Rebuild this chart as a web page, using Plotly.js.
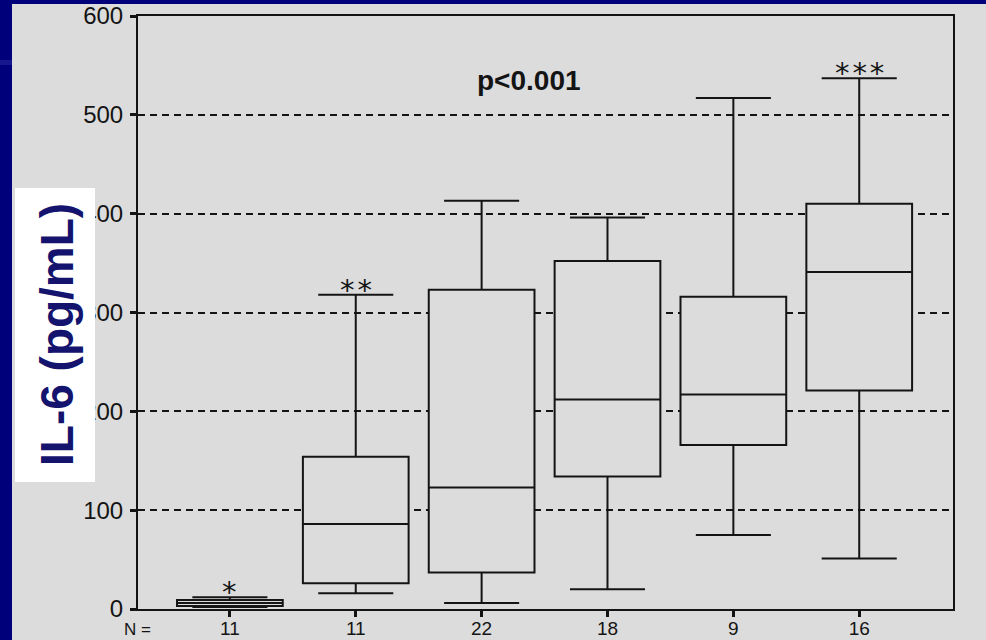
<!DOCTYPE html>
<html><head><meta charset="utf-8">
<script src="https://cdn.plot.ly/plotly-3.0.1.min.js"></script>
<style>html,body{margin:0;padding:0;background:#00007a;overflow:hidden;} #chart{width:986px;height:640px;}</style>
</head><body><div id="chart"></div>
<script>
// ---- data ----
const groupPos = [0, 1, 2, 3, 4, 5];
const nLabels = ['11', '11', '22', '18', '9', '16'];
const lowerWhisker = [2, 16, 6, 20, 75, 51];
const q1Values = [3, 26, 37, 134, 166, 221];
const medianValues = [6, 86, 123, 212, 217, 341];
const q3Values = [9, 154, 323, 352, 316, 410];
const upperWhisker = [12, 318, 413, 396, 517, 537];
const yTicks = [0, 100, 200, 300, 400, 500, 600];
const starGroups = [0, 1, 5];
const starLabels = ['*', '*\u200A*', '*\u200A*\u200A*'];
const pText = 'p<0.001';
const pPos = {x: 2.38, y: 535};
const yTitle = 'IL-6 (pg/mL)';

// ---- layout geometry (pixels) ----
const W = 986, H = 640;
const L = 138, R = 33, T = 16, B = 31;
const PW = W - L - R, PH = H - T - B;
const px = v => (v - L) / PW;
const py = v => (H - B - v) / PH;

const NAVY = '#00007a';
const PANEL = '#dcdcdc';
const INK = '#141414';
const FONT = 'Liberation Sans, Arial, sans-serif';

const trace = {
  type: 'box',
  x: groupPos,
  q1: q1Values,
  median: medianValues,
  q3: q3Values,
  lowerfence: lowerWhisker,
  upperfence: upperWhisker,
  boxpoints: false,
  width: 0.84,
  whiskerwidth: 0.71,
  fillcolor: PANEL,
  line: {color: INK, width: 2},
  hoverinfo: 'skip',
  showlegend: false
};

const annotations = [];
starGroups.forEach((g, i) => {
  annotations.push({
    x: groupPos[g], y: upperWhisker[g], xref: 'x', yref: 'y',
    text: starLabels[i], showarrow: false, xanchor: 'center', yanchor: 'bottom',
    yshift: -14,
    font: {family: 'DejaVu Sans, sans-serif', size: 29, color: INK}
  });
});
annotations.push({
  x: pPos.x, y: pPos.y, xref: 'x', yref: 'y', text: '<b>' + pText + '</b>',
  showarrow: false, xanchor: 'center', yanchor: 'middle',
  font: {family: FONT, size: 28, color: INK}
});
annotations.push({
  x: px(137), y: py(629), xref: 'paper', yref: 'paper', text: 'N =',
  showarrow: false, xanchor: 'center', yanchor: 'middle',
  font: {family: FONT, size: 17, color: INK}
});
annotations.push({
  x: px(57), y: py(335), xref: 'paper', yref: 'paper', text: '<b>' + yTitle + '</b>',
  showarrow: false, xanchor: 'center', yanchor: 'middle', textangle: -90,
  font: {family: FONT, size: 46, color: '#14146e'}
});

const shapes = [
  {type: 'rect', xref: 'paper', yref: 'paper', x0: px(12), x1: px(986), y0: py(640), y1: py(4),
   fillcolor: PANEL, line: {width: 0}, layer: 'below'},
  {type: 'rect', xref: 'paper', yref: 'paper', x0: px(0), x1: px(12), y0: py(65), y1: py(60),
   fillcolor: '#16168e', line: {width: 0}, layer: 'below'},
  {type: 'rect', xref: 'paper', yref: 'paper', x0: px(15), x1: px(95), y0: py(482), y1: py(188),
   fillcolor: '#ffffff', line: {width: 0}, layer: 'above'}
];

const layout = {
  width: W, height: H,
  margin: {l: L, r: R, t: T, b: B, pad: 0},
  paper_bgcolor: NAVY,
  plot_bgcolor: PANEL,
  showlegend: false,
  xaxis: {
    range: [-0.73, 5.745],
    tickmode: 'array', tickvals: groupPos, ticktext: nLabels,
    ticks: 'outside', ticklen: 6, tickwidth: 3, tickcolor: INK,
    showgrid: false, zeroline: false,
    showline: true, linecolor: INK, linewidth: 2, mirror: true,
    tickfont: {family: FONT, size: 19, color: INK},
    ticklabelstandoff: -5,
    fixedrange: true
  },
  yaxis: {
    range: [0, 600],
    tickmode: 'array', tickvals: yTicks,
    ticks: 'outside', ticklen: 6, tickwidth: 3, tickcolor: INK,
    showgrid: true, gridcolor: INK, gridwidth: 2, griddash: '7px,5px',
    zeroline: false,
    showline: true, linecolor: INK, linewidth: 2, mirror: true,
    tickfont: {family: FONT, size: 24, color: INK},
    ticklabelstandoff: 2,
    fixedrange: true
  },
  shapes: shapes,
  annotations: annotations
};

Plotly.newPlot('chart', [trace], layout, {displayModeBar: false, staticPlot: true});
</script>
</body></html>
